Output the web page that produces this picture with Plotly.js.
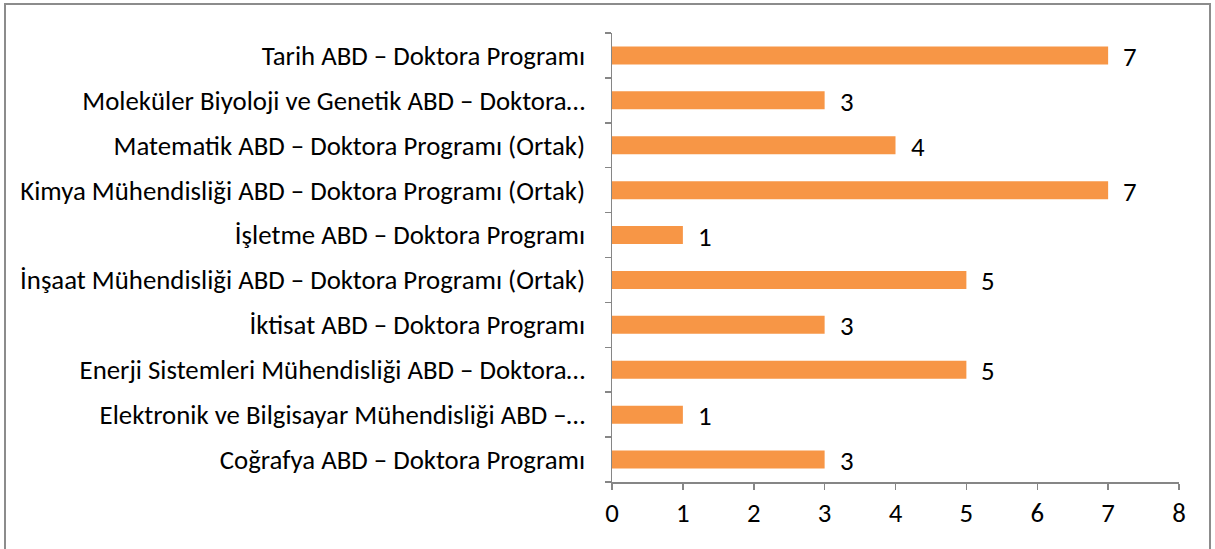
<!DOCTYPE html>
<html><head><meta charset="utf-8">
<script src="https://cdn.plot.ly/plotly-3.0.1.min.js"></script>
<style>html,body{margin:0;padding:0;overflow:hidden;background:#fff}
#frame{position:absolute;left:4px;top:3px;width:1207px;height:600px;border:2px solid #8c8c8c;pointer-events:none;box-sizing:border-box}
</style></head><body>
<div id="chart" style="width:1215px;height:549px"></div>
<div id="frame"></div>
<script>
const categories = [
  "Coğrafya ABD – Doktora Programı",
  "Elektronik ve Bilgisayar Mühendisliği ABD –…",
  "Enerji Sistemleri Mühendisliği ABD – Doktora…",
  "İktisat ABD – Doktora Programı",
  "İnşaat Mühendisliği ABD – Doktora Programı (Ortak)",
  "İşletme ABD – Doktora Programı",
  "Kimya Mühendisliği ABD – Doktora Programı (Ortak)",
  "Matematik ABD – Doktora Programı (Ortak)",
  "Moleküler Biyoloji ve Genetik ABD – Doktora…",
  "Tarih ABD – Doktora Programı"
];
const values = [3, 1, 5, 3, 5, 1, 7, 4, 3, 7];
const xTicks = [0, 1, 2, 3, 4, 5, 6, 7, 8];

const FONT = "Carlito, Calibri, Lato, sans-serif";
const trace = {
  type: "bar", orientation: "h",
  y: categories, x: values,
  marker: {color: "#F79646"},
  hoverinfo: "none"
};
const annotations = values.map((v, i) => ({
  x: v, y: categories[i], text: String(v), showarrow: false,
  xanchor: "left", xshift: 13, yshift: -1,
  font: {family: FONT, size: 26.8, color: "#000"}
}));
const layout = {
  margin: {l: 612, r: 36, t: 33, b: 67},
  paper_bgcolor: "#fff", plot_bgcolor: "#fff",
  showlegend: false, bargap: 0.6,
  font: {family: FONT, size: 26.8, color: "#000"},
  xaxis: {range: [0, 8], tickvals: xTicks, ticktext: xTicks.map(String),
    showgrid: false, zeroline: false, showline: true, linecolor: "#868686", linewidth: 1.5,
    ticks: "outside", ticklen: 6, tickcolor: "#868686", tickwidth: 1.5, fixedrange: true},
  yaxis: {type: "category", categoryorder: "array", categoryarray: categories,
    showgrid: false, zeroline: false, showline: true, linecolor: "#868686", linewidth: 1.5,
    ticks: "outside", ticklen: 6, tickcolor: "#868686", tickwidth: 1.5, tickson: "boundaries",
    ticklabelstandoff: 20, fixedrange: true},
  annotations: annotations
};
Plotly.newPlot("chart", [trace], layout, {displayModeBar: false, staticPlot: true});
</script></body></html>
